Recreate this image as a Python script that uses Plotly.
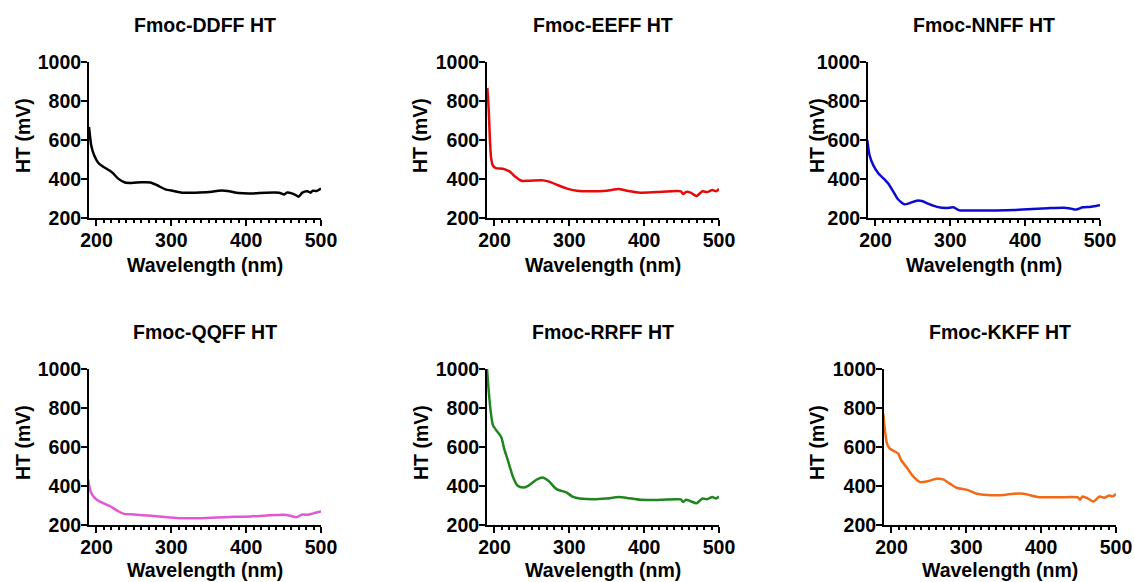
import plotly.graph_objects as go

# ---- data ----
titles = ["Fmoc-DDFF HT", "Fmoc-EEFF HT", "Fmoc-NNFF HT",
          "Fmoc-QQFF HT", "Fmoc-RRFF HT", "Fmoc-KKFF HT"]
colors = ["#000000", "#e60a0a", "#0b0bd2", "#e356d4", "#1f861f", "#f06a18"]

ddff_x = [190, 193, 197, 202, 209, 218, 222, 229, 238, 247, 260, 272, 281, 292, 303, 314, 332, 350, 363, 375,
          390, 408, 426, 444, 451, 454, 462, 466, 470, 475, 482, 486, 489, 494, 500]
ddff_y = [667, 572, 520, 485, 463, 442, 430, 402, 382, 380, 383, 382, 368, 347, 339, 330, 330, 333, 340, 339,
          328, 326, 330, 330, 321, 330, 325, 318, 309, 330, 337, 330, 340, 338, 351]

eeff_x = [190.5, 192.4, 194, 195.5, 198, 202, 211, 220, 227, 236, 247, 265, 274, 285, 296, 310, 328, 350, 366,
          377, 395, 417, 449, 452, 456, 462, 470, 478, 484, 491, 496, 500]
eeff_y = [867, 747, 593, 508, 468, 456, 453, 439, 414, 391, 391, 393, 385, 368, 352, 340, 337, 340, 349,
          340, 330, 333, 337, 323, 334, 330, 313, 337, 333, 344, 337, 349]

nnff_x = [189, 192, 197, 204, 213, 217, 224, 230, 239, 246, 255, 262, 271, 282, 295, 304, 312, 331, 362, 385,
          403, 430, 452, 461, 468, 477, 486, 492, 500]
nnff_y = [600, 523, 471, 428, 394, 377, 334, 296, 270, 277, 289, 287, 272, 257, 251, 255, 239, 239, 239, 241,
          245, 250, 253, 248, 243, 255, 257, 260, 265]

qqff_x = [189, 192, 197, 204, 212, 219, 228, 237, 250, 273, 295, 312, 339, 361, 384, 406, 428, 451, 459, 467,
          475, 482, 491, 500]
qqff_y = [434, 373, 342, 321, 307, 295, 273, 257, 254, 247, 240, 235, 235, 238, 242, 244, 249, 252, 247, 240,
          254, 252, 261, 269]

rrff_x = [190, 192, 195, 198, 202, 209, 213, 218, 225, 231, 238, 245, 256, 264, 272, 283, 296, 305, 314, 332,
          350, 366, 377, 395, 422, 449, 452, 456, 462, 470, 478, 484, 491, 496, 500]
rrff_y = [1000, 900, 780, 711, 688, 651, 590, 530, 444, 401, 392, 401, 432, 444, 427, 384, 367, 344, 336, 332,
          336, 343, 339, 329, 329, 331, 318, 330, 322, 312, 336, 332, 343, 336, 346]

kkff_x = [189, 191, 194, 198, 204, 209, 213, 220, 229, 238, 247, 260, 269, 278, 287, 301, 314, 328, 350, 363,
          377, 395, 422, 449, 452, 455, 462, 470, 478, 484, 491, 496, 500]
kkff_y = [772, 694, 617, 591, 578, 566, 532, 497, 449, 420, 423, 437, 434, 412, 391, 380, 360, 354, 354, 360,
          360, 344, 342, 342, 330, 346, 337, 320, 346, 340, 351, 347, 360]

series_x = [ddff_x, eeff_x, nnff_x, qqff_x, rrff_x, kkff_x]
series_y = [ddff_y, eeff_y, nnff_y, qqff_y, rrff_y, kkff_y]

x_ticks = [200, 300, 400, 500]
y_ticks = [200, 400, 600, 800, 1000]
x_title = "Wavelength (nm)"
y_title = "HT (mV)"

# ---- layout geometry (pixels in a 1134 x 582 canvas) ----
W, H = 1134, 582
# (left, right, top, bottom) of each plot area
boxes = [(89, 321, 62, 218), (487, 719, 62, 218), (868, 1100, 62, 218),
         (89, 321, 369, 525), (487, 719, 369, 525), (884, 1116, 369, 525)]
ytitle_x = [23, 420, 817, 23, 421, 817]
xtitle_off = [47, 47, 47, 45, 45, 45]

FONT = "Liberation Sans, Arial, sans-serif"
FS = 19.5

fig = go.Figure()
annotations = []
for i in range(6):
    l, r, t, b = boxes[i]
    xa = "x" if i == 0 else f"x{i+1}"
    ya = "y" if i == 0 else f"y{i+1}"
    fig.add_trace(go.Scatter(x=series_x[i], y=series_y[i], mode="lines", xaxis=xa, yaxis=ya,
                             line=dict(color=colors[i], width=2.5, shape="spline", smoothing=0.6),
                             showlegend=False, hoverinfo="skip"))
    axis_common = dict(showgrid=False, zeroline=False, showline=True, linecolor="black", linewidth=2,
                       automargin=False,
                       ticks="outside", ticklen=6, tickwidth=2, tickcolor="black",
                       tickfont=dict(family=FONT, size=FS, color="black", weight="bold"))
    xkey = "xaxis" if i == 0 else f"xaxis{i+1}"
    ykey = "yaxis" if i == 0 else f"yaxis{i+1}"
    fig.layout[xkey] = dict(domain=[l / W, r / W], anchor=ya, range=[190, 500],
                            tickvals=x_ticks, ticklabelstandoff=-2,
                            minor=dict(ticks="outside", ticklen=3, tickwidth=1.5, tickcolor="black",
                                       tickvals=list(range(200, 501, 10))),
                            **axis_common)
    fig.layout[ykey] = dict(domain=[1 - b / H, 1 - t / H], anchor=xa, range=[200, 1000],
                            tickvals=y_ticks, ticklabelstandoff=-4, **axis_common)
    cx = (l + r) / 2
    # panel title
    annotations.append(dict(text=titles[i], x=cx / W, y=1 - (t - 37) / H, xref="paper", yref="paper",
                            showarrow=False, xanchor="center", yanchor="middle",
                            font=dict(family=FONT, size=FS, color="black", weight="bold")))
    # x axis title
    annotations.append(dict(text=x_title, x=cx / W, y=1 - (b + xtitle_off[i]) / H, xref="paper", yref="paper",
                            showarrow=False, xanchor="center", yanchor="middle",
                            font=dict(family=FONT, size=FS, color="black", weight="bold")))
    # y axis title
    annotations.append(dict(text=y_title, x=ytitle_x[i] / W, y=1 - ((t + b) / 2 - 4) / H,
                            xref="paper", yref="paper", textangle=-90,
                            showarrow=False, xanchor="center", yanchor="middle",
                            font=dict(family=FONT, size=FS, color="black", weight="bold")))

fig.update_layout(template="none", width=W, height=H, margin=dict(l=0, r=0, t=0, b=0),
                  paper_bgcolor="white", plot_bgcolor="white", annotations=annotations)

fig.write_html("out.html")
